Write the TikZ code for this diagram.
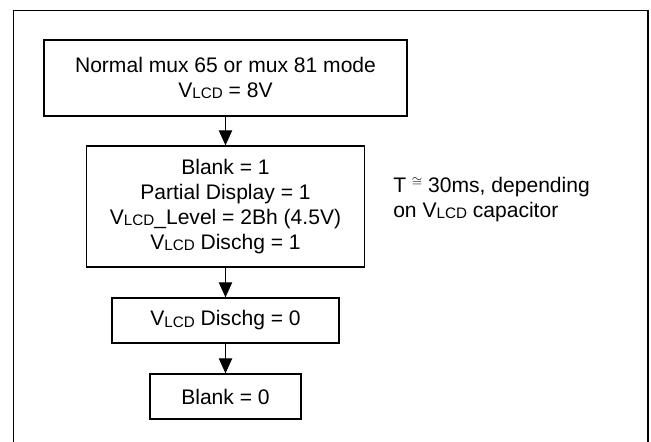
\documentclass[tikz,border=0pt]{standalone}
\usepackage{fontspec}
\setmainfont{Liberation Sans}
\usetikzlibrary{arrows.meta, positioning}

\newcommand{\vlcd}{V\raisebox{-0.06em}{\fontsize{11.4}{11.4}\selectfont LCD}}

\begin{document}
\begin{tikzpicture}[
            x=0.75pt, y=-0.75pt,
            box/.style = {draw, line width=1pt, inner sep=0pt, align=center,
                          font=\fontsize{15.8}{18.75}\selectfont},
            note/.style = {anchor=west, inner sep=0pt, align=left,
                           font=\fontsize{15.8}{18.75}\selectfont},
            arr/.style = {line width=0.9pt, -{Triangle[length=11.25pt, width=10pt]}}]
            \useasboundingbox (0,0) rectangle (651,442);
            % outer frame, open at the bottom
            \draw[line width=1.1pt] (13.5,442) |- (648,10.5) -- (648,442);
            \node[box, minimum width=272.25pt, minimum height=57pt] (normal)
                at (225.5,78) {Normal mux 65 or mux 81 mode\\ \vlcd{} = 8V};
            \node[box, minimum width=208.5pt, minimum height=90.75pt] (blank)
                at (225.5,206.5) {Blank = 1\\ Partial Display = 1\\
                \vlcd\_Level = 2Bh (4.5V)\\ \vlcd{} Dischg = 1};
            \node[box, minimum width=170.25pt, minimum height=33.75pt] (dischg)
                at (225.5,320.5) {\vlcd{} Dischg = 0};
            \node[box, minimum width=113.25pt, minimum height=33.75pt] (unblank)
                at (225.5,396.5) {Blank = 0};
            \node[note] (delay) at (393,199.5)
                {T \raisebox{0.3em}{\fontsize{10}{10}\selectfont$\cong$} 30ms, depending\\ on \vlcd{} capacitor};
            \draw[arr] (normal) -- (blank);
            \draw[arr] (blank) -- (dischg);
            \draw[arr] (dischg) -- (unblank);
\end{tikzpicture}
\end{document}
